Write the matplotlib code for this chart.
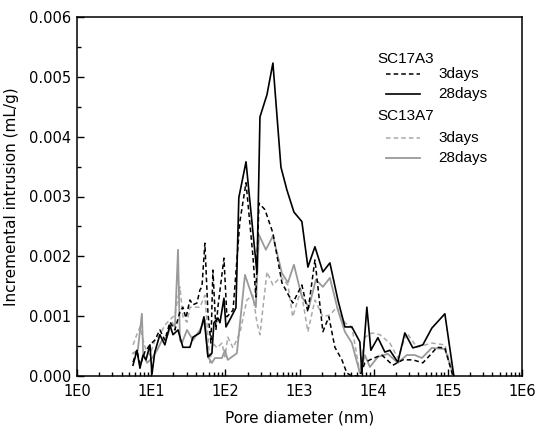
import numpy as np
import matplotlib
matplotlib.use("Agg")
import matplotlib.pyplot as plt
from matplotlib.ticker import FixedLocator, LogLocator, NullFormatter, MultipleLocator, FuncFormatter

# ---- data (pore diameter in nm, incremental intrusion in mL/g x 1e-3) ----
sc17_28_d = [5.69, 6.44, 7.06, 7.76, 8.51, 9.63, 10.25, 11.2, 13.1, 15.3, 17.9, 19.7, 23.0, 26.8, 33.3,
             36.6, 45.5, 51.5, 58.3, 65.9, 70.2, 79.4, 84.6, 95.8, 102, 115, 139, 152, 190, 267,
             293, 364, 438, 562, 676, 841, 1077, 1298, 1614, 2066, 2570, 3296, 4093, 5084, 6516,
             6934, 8095, 9163, 11400, 14160, 16530, 21180, 26310, 33750, 46000, 60840, 91170, 120500]
sc17_28_v = [0.18, 0.43, 0.13, 0.35, 0.27, 0.52, 0.03, 0.40, 0.69, 0.52, 0.85, 0.69, 0.77, 0.48, 0.48,
             0.65, 0.72, 0.99, 0.32, 0.38, 0.89, 0.97, 0.89, 1.30, 0.82, 0.94, 1.14, 2.98, 3.58, 1.72,
             4.33, 4.70, 5.23, 3.49, 3.11, 2.74, 2.58, 1.82, 2.16, 1.74, 1.89, 1.27, 0.82, 0.82, 0.57,
             0.05, 1.15, 0.43, 0.64, 0.40, 0.43, 0.23, 0.72, 0.47, 0.52, 0.80, 1.04, 0.0]

sc17_3_d = [5.7, 6.4, 7.1, 8.2, 9.6, 11.2, 13.1, 15.3, 17.9, 20.9, 24.4, 26.8, 29.4, 33.3, 36.6,
            41.4, 45.5, 48.4, 53.0, 58.3, 64.0, 68.0, 74.7, 79.4, 95.8, 105, 127, 157, 190, 235,
            258, 284, 342, 438, 579, 811, 1077, 1298, 1614, 2066, 2490, 3000, 3730, 4350, 5080,
            6520, 7610, 8890, 11050, 12900, 18150, 24770, 33750, 46000, 60840, 71100, 91170, 116800]
sc17_3_v = [0.23, 0.43, 0.18, 0.40, 0.52, 0.60, 0.77, 0.60, 0.90, 0.77, 1.07, 1.15, 0.97, 1.27, 1.19,
            1.22, 1.44, 1.49, 2.22, 1.05, 0.55, 1.77, 0.77, 1.15, 1.97, 0.99, 1.10, 2.58, 3.23, 2.02,
            1.32, 2.89, 2.78, 2.39, 1.56, 1.22, 1.52, 1.07, 1.94, 0.74, 0.99, 0.48, 0.27, 0.05, 0.0,
            0.0, 0.22, 0.27, 0.32, 0.35, 0.18, 0.27, 0.27, 0.22, 0.38, 0.48, 0.47, 0.0]

sc13_28_d = [5.7, 6.6, 7.5, 7.8, 8.8, 10.3, 12.0, 14.0, 16.3, 19.1, 20.9, 23.0, 24.4, 26.0, 30.4,
             36.6, 45.5, 53.0, 58.3, 65.9, 72.4, 90.0, 98.8, 108, 143, 184, 258, 284, 352, 438,
             579, 698, 841, 1077, 1339, 1663, 2066, 2570, 3296, 4093, 5084, 6516, 7610, 8890, 11400,
             15530, 21180, 28000, 35900, 44650, 60840, 91170, 120500]
sc13_28_v = [0.38, 0.43, 1.04, 0.38, 0.22, 0.30, 0.43, 0.60, 0.65, 0.89, 0.82, 2.11, 0.60, 0.55, 0.77,
             0.60, 0.77, 0.94, 0.32, 0.22, 0.30, 0.30, 0.43, 0.27, 0.38, 1.69, 1.15, 2.36, 2.11, 2.34,
             1.72, 1.56, 1.86, 1.32, 1.15, 1.61, 1.49, 1.64, 1.10, 0.74, 0.55, 0.05, 0.35, 0.15, 0.32,
             0.37, 0.22, 0.35, 0.35, 0.30, 0.47, 0.45, 0.0]

sc13_3_d = [5.7, 6.4, 7.1, 7.8, 8.5, 9.6, 11.2, 13.1, 15.3, 17.9, 20.9, 24.4, 26.8, 30.4, 33.3,
            45.5, 53.0, 62.0, 68.0, 77.1, 90.0, 98.8, 108, 127, 157, 195, 235, 267, 293, 364,
            438, 562, 698, 811, 1045, 1298, 1614, 2066, 2570, 3193, 4093, 5084, 6516, 7610, 9460,
            12130, 16530, 21180, 28000, 38200, 60840, 91170, 120500]
sc13_3_v = [0.52, 0.69, 0.82, 0.60, 0.43, 0.35, 0.60, 0.69, 0.85, 0.94, 1.02, 1.49, 0.99, 0.90, 1.15,
            1.15, 1.35, 0.22, 0.55, 0.47, 0.55, 0.32, 0.65, 0.47, 0.72, 1.27, 1.35, 0.89, 0.69, 1.74,
            1.52, 1.66, 1.52, 0.99, 1.44, 0.74, 1.27, 0.99, 1.02, 1.15, 0.89, 0.82, 0.05, 0.65, 0.72,
            0.69, 0.55, 0.30, 0.72, 0.48, 0.55, 0.52, 0.0]

x_ticks = [1e0, 1e1, 1e2, 1e3, 1e4, 1e5, 1e6]
x_tick_labels = ["1E0", "1E1", "1E2", "1E3", "1E4", "1E5", "1E6"]
y_ticks = [0.000, 0.001, 0.002, 0.003, 0.004, 0.005, 0.006]

# ---- figure ----
plt.rcParams['font.family'] = ['DejaVu Sans']
fig = plt.figure(figsize=(5.36, 4.38), dpi=100)
ax = fig.add_axes([77/536, 1 - 376/438, 445/536, 359/438])

GRAY_SOLID = '#9a9a9a'
GRAY_DASH = '#a9a9a9'
dash = (0, (3, 2))

ax.plot(sc13_3_d, np.array(sc13_3_v) * 1e-3, color=GRAY_DASH, lw=1.1, ls=dash)
ax.plot(sc13_28_d, np.array(sc13_28_v) * 1e-3, color=GRAY_SOLID, lw=1.3)
ax.plot(sc17_3_d, np.array(sc17_3_v) * 1e-3, color='black', lw=1.1, ls=dash)
ax.plot(sc17_28_d, np.array(sc17_28_v) * 1e-3, color='black', lw=1.2)

ax.set_xscale('log')
ax.set_xlim(1, 1e6)
ax.set_ylim(0, 0.006)
ax.xaxis.set_major_locator(FixedLocator(x_ticks))
ax.set_xticklabels(x_tick_labels)
ax.xaxis.set_minor_locator(LogLocator(base=10, subs=np.arange(2, 10), numticks=20))
ax.xaxis.set_minor_formatter(NullFormatter())
ax.set_yticks(y_ticks)
ax.yaxis.set_major_formatter(FuncFormatter(lambda v, p: f"{v:.3f}"))
ax.yaxis.set_minor_locator(MultipleLocator(0.0005))

ax.tick_params(which='both', direction='in', top=False, right=False, labelsize=10.5, width=1)
ax.tick_params(which='major', length=5)
ax.tick_params(axis='x', which='major', pad=6)
ax.tick_params(axis='y', which='major', pad=4)
ax.tick_params(which='minor', length=3)
for s in ax.spines.values():
    s.set_linewidth(1.1)

ax.set_xlabel("Pore diameter (nm)", fontsize=11)
ax.set_ylabel("Incremental intrusion (mL/g)", fontsize=11)
ax.xaxis.set_label_coords(0.5, -0.095)
ax.yaxis.set_label_coords(-0.13, 0.5)

# ---- legend (drawn manually, grouped with headers) ----
lf = dict(fontsize=11, family=['Liberation Sans', 'DejaVu Sans'], va='center', ha='left', transform=ax.transAxes)
ax.text(0.676, 0.883, "SC17A3", **lf)
ax.plot([0.694, 0.771], [0.841, 0.841], transform=ax.transAxes, color='black', lw=1.1, ls=dash)
ax.text(0.812, 0.841, "3days", **lf)
ax.plot([0.694, 0.771], [0.786, 0.786], transform=ax.transAxes, color='black', lw=1.2)
ax.text(0.812, 0.786, "28days", **lf)
ax.text(0.676, 0.724, "SC13A7", **lf)
ax.plot([0.694, 0.771], [0.663, 0.663], transform=ax.transAxes, color=GRAY_DASH, lw=1.1, ls=dash)
ax.text(0.812, 0.663, "3days", **lf)
ax.plot([0.694, 0.771], [0.607, 0.607], transform=ax.transAxes, color=GRAY_SOLID, lw=1.3)
ax.text(0.812, 0.607, "28days", **lf)

fig.savefig("out.png", dpi=100)
